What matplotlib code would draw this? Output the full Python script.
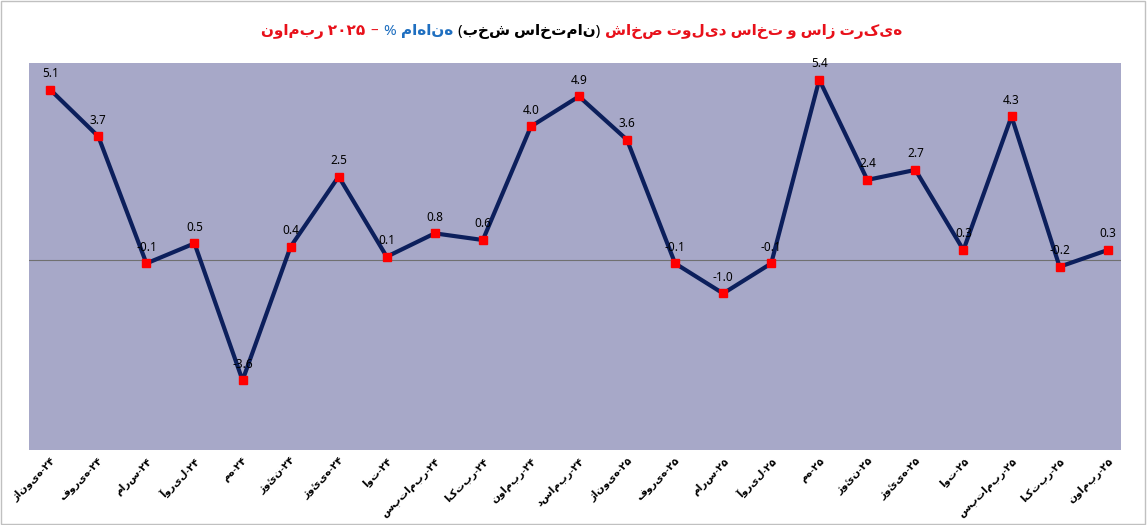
import matplotlib
matplotlib.use("Agg")
import matplotlib.pyplot as plt

months = ["ژانویه-۲۴", "فوریه-۲۴", "مارس-۲۴", "آوریل-۲۴", "مه-۲۴", "ژوئن-۲۴",
          "ژوئیه-۲۴", "اوت-۲۴", "سپتامبر-۲۴", "اکتبر-۲۴", "نوامبر-۲۴", "دسامبر-۲۴",
          "ژانویه-۲۵", "فوریه-۲۵", "مارس-۲۵", "آوریل-۲۵", "مه-۲۵", "ژوئن-۲۵",
          "ژوئیه-۲۵", "اوت-۲۵", "سپتامبر-۲۵", "اکتبر-۲۵", "نوامبر-۲۵"]
values = [5.1, 3.7, -0.1, 0.5, -3.6, 0.4, 2.5, 0.1, 0.8, 0.6, 4.0, 4.9,
          3.6, -0.1, -1.0, -0.1, 5.4, 2.4, 2.7, 0.3, 4.3, -0.2, 0.3]

# title pieces in reading order (right to left)
title_parts = [("شاخص تولید ساخت و ساز ترکیه", "#e8101a"),
               ("(بخش ساختمان)", "black"),
               ("ماهانه", "#1f6fc0"),
               ("%", "#1f6fc0"),
               ("–", "#e8101a"),
               ("نوامبر ۲۰۲۵", "#e8101a")]

plt.rcParams['font.family'] = ['Noto Sans', 'DejaVu Sans']

fig = plt.figure(figsize=(11.47, 5.25), dpi=100)
ax = fig.add_axes([0.025, 0.142, 0.952, 0.738])
ax.set_facecolor("#a7a8c8")
x = list(range(len(values)))
ax.axhline(0, color="#707070", lw=0.8)
ax.plot(x, values, color="#0c1f5c", lw=3, marker="s", ms=6,
        markerfacecolor="#ff0000", markeredgecolor="#ff0000", zorder=3)
for xi, v in zip(x, values):
    ax.annotate(f"{v:.1f}", (xi, v), xytext=(0, 7), textcoords="offset points",
                ha="center", va="bottom", fontsize=8.5, color="black")
ax.set_xlim(-0.45, len(values) - 0.73)
ax.set_ylim(-5.7, 5.9)
ax.set_yticks([])
ax.set_xticks(x)
ax.set_xticklabels(months, rotation=45, ha="right",
                   rotation_mode="anchor", fontsize=7.5, fontweight="bold")
ax.tick_params(axis="x", length=0, pad=4)
for s in ax.spines.values():
    s.set_visible(False)

fig.canvas.draw()
r = fig.canvas.get_renderer()
xr = 0.787
gap = 5 / fig.bbox.width
for txt, col in title_parts:
    t = fig.text(xr, 0.94, txt, ha="right", va="center", color=col,
                 fontsize=11, fontweight="bold")
    bb = t.get_window_extent(r)
    xr -= bb.width / fig.bbox.width + gap

fig.patches.append(plt.Rectangle((0.001, 0.002), 0.997, 0.996, transform=fig.transFigure,
                                 fill=False, edgecolor="#c0c0c0", lw=1))
fig.savefig("out.png", dpi=100)
